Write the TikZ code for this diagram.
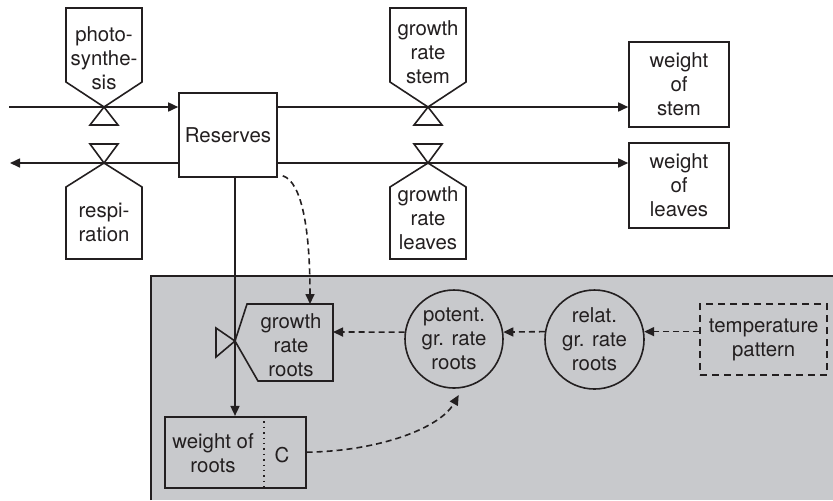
\documentclass[tikz,border=0pt]{standalone}
\usepackage{fontspec}
\setmainfont{TeX Gyre Heros}
\usetikzlibrary{arrows.meta,calc}
\definecolor{ink}{RGB}{35,31,32}
\definecolor{panel}{RGB}{200,201,204}
\begin{document}
\begin{tikzpicture}[x=0.5pt,y=-0.5pt,line width=0.8pt,color=ink,
  font=\fontsize{10.2}{12}\selectfont,
  box/.style={draw=ink,rectangle,align=center,inner sep=0pt},
  lbl/.style={align=center,inner sep=0pt},
  rnd/.style={draw=ink,circle,align=center,inner sep=0pt,minimum size=49pt},
  arr/.style={-{Triangle[length=5pt,width=4.5pt]}},
  dsh/.style={dash pattern=on 3pt off 2pt},
  valve/.style={draw=ink,fill=white,line join=miter}]
\useasboundingbox (0,0) rectangle (833,500);

% shaded panel
\fill[panel] (151,276) rectangle (833,500);
\draw (151,500) -- (151,276) -- (833,276);

% valve coordinates
\coordinate (vps) at (104,107);
\coordinate (vrs) at (104,163);
\coordinate (vst) at (428,107);
\coordinate (vlv) at (428,163);
\coordinate (vro) at (235,341);
\coordinate (src) at (9,107);
\coordinate (sink) at (10,163);
\coordinate (grotop) at (310,304);
\coordinate (groright) at (333,332);

% boxes
\node[box,minimum width=49pt,minimum height=42pt] (res) at (228,135) {Reserves};
\node[box,minimum width=50pt,minimum height=42.5pt] (stem) at (679,84.5) {weight\\of\\stem};
\node[box,minimum width=50pt,minimum height=42.5pt] (leaves) at (679,185.7) {weight\\of\\leaves};
\node[box,minimum width=70.5pt,minimum height=35.5pt] (roots) at (235.3,452.2) {};
\node[lbl] (rootstxt) at (213,453) {weight of\\roots};
\node[lbl] (ctxt) at (282,455) {C};
\coordinate (divx) at (264,0);
\draw[dotted,line width=0.7pt] (roots.north -| divx) -- (roots.south -| divx);

\node[draw=ink,rectangle,align=center,inner sep=0pt,dash pattern=on 3.5pt off 2.5pt,
  minimum width=63.5pt,minimum height=35.5pt] (temp) at (763.7,339.5) {temperature\\pattern};
\node[rnd] (potent) at (454,339) {potent.\\gr. rate\\roots};
\node[rnd,minimum size=49.5pt] (relat) at (594.5,339.5) {relat.\\gr. rate\\roots};

% flows
\draw[arr] (src) -- (vps) -- (res.west |- vps);
\draw[arr] (res.west |- vrs) -- (vrs) -- (sink);
\draw[arr] (res.east |- vst) -- (vst) -- (stem.west |- vst);
\draw[arr] (res.east |- vlv) -- (vlv) -- (leaves.west |- vlv);
\draw[arr] (res.south -| vro) -- (vro) -- (roots.north -| vro);

% valves
\draw[valve] (66,8) -- (142,8) -- (142,82) -- (vps) -- (66,82) -- cycle;
\draw[valve] (vps) -- (118,125) -- (90,125) -- cycle;
\node[lbl] (tps) at (104,58) {photo-\\synthe-\\sis};

\draw[valve] (vrs) -- (142,187) -- (142,259) -- (66,259) -- (66,187) -- cycle;
\draw[valve] (vrs) -- (90,144) -- (118,144) -- cycle;
\node[lbl] (trs) at (104,222) {respi-\\ration};

\draw[valve] (390,8) -- (466,8) -- (466,82) -- (vst) -- (390,82) -- cycle;
\draw[valve] (vst) -- (442,125) -- (414,125) -- cycle;
\node[lbl] (tst) at (428,52) {growth\\rate\\stem};

\draw[valve] (vlv) -- (466,187) -- (466,259) -- (390,259) -- (390,187) -- cycle;
\draw[valve] (vlv) -- (414,144) -- (442,144) -- cycle;
\node[lbl] (tlv) at (428,218) {growth\\rate\\leaves};

\draw[line join=miter] (vro) -- (247,304) -- (333,304) -- (333,381) -- (258,381) -- cycle;
\draw[line join=miter] (vro) -- (216,328) -- (216,357) -- cycle;
\node[lbl] (tro) at (291,345) {growth\\rate\\roots};

% information links
\draw[dsh,arr] ($(res.south east)+(5,-2)$) .. controls (302,182) and (310,230) .. (grotop);
\draw[dsh,arr] (potent.172) -- (groright);
\draw[dsh,arr] (relat.171) -- (potent.8);
\draw[dsh,arr] (temp.west |- relat.9) -- (relat.9);
\draw[dsh,arr,shorten >=4pt] (roots.east) .. controls (380,451) and (440,428) .. (potent.-80);
\end{tikzpicture}
\end{document}
